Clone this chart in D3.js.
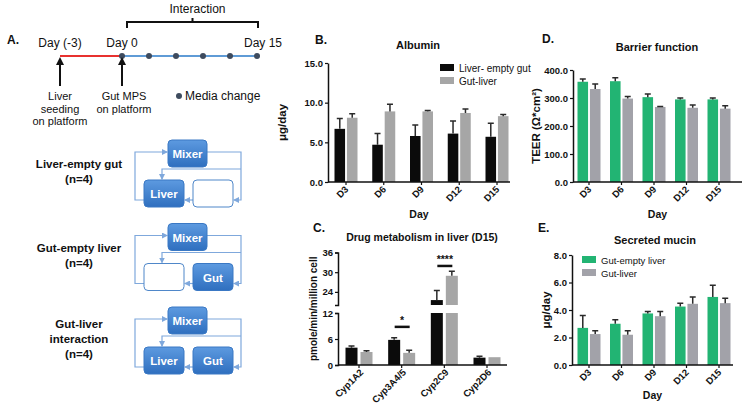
<!DOCTYPE html>
<html><head><meta charset="utf-8">
<script src="https://cdn.jsdelivr.net/npm/d3@7"></script>
<style>
body{margin:0;background:#fff}
svg{display:block}
text{font-family:"Liberation Sans",Arial,sans-serif;fill:#111}
</style>
</head><body>
<svg id="chart" width="749" height="408"></svg>
<script>
// ---------- DATA ----------
const timelineLabels = ["Day (-3)", "Day 0", "Day 15"];
const timelineDays = [-3, 0, 15];
const mediaChangeDays = [0, 3, 6, 9, 12, 15];
const setupLabels = [["Liver-empty gut", "(n=4)"], ["Gut-empty liver", "(n=4)"], ["Gut-liver", "interaction", "(n=4)"]];
const setupLeftBox = ["Liver", "", "Liver"];
const setupRightBox = ["", "Gut", "Gut"];

const days = ["D3", "D6", "D9", "D12", "D15"];
const albuminLiverEmptyGut = [6.7, 4.7, 5.8, 6.1, 5.7];
const albuminLiverEmptyGutErr = [1.3, 1.4, 1.4, 1.6, 1.7];
const albuminGutLiver = [8.1, 8.9, 8.9, 8.7, 8.3];
const albuminGutLiverErr = [0.5, 0.9, 0.1, 0.5, 0.2];
const albuminTicks = [0, 5, 10, 15];

const cypGenes = ["Cyp1A2", "Cyp3A4/5", "Cyp2C9", "Cyp2D6"];
const cypLiverEmptyGut = [4.0, 5.8, 21.5, 1.7];
const cypLiverEmptyGutErr = [0.4, 0.5, 2.9, 0.3];
const cypGutLiver = [3.0, 2.8, 28.9, 1.8];
const cypGutLiverErr = [0.3, 0.6, 1.4, 0];
const cypLowTicks = [0, 6, 12];
const cypHighTicks = [24, 30, 36];
const sigGenes = ["Cyp3A4/5", "Cyp2C9"];
const sigLabels = ["*", "****"];
const sigHeights = [8.8, 31.9];

const teerGutEmptyLiver = [358, 360, 303, 295, 295];
const teerGutEmptyLiverErr = [10, 12, 11, 5, 5];
const teerGutLiver = [332, 298, 268, 265, 262];
const teerGutLiverErr = [18, 7, 2, 10, 10];
const teerTicks = [0, 100, 200, 300, 400];

const mucinGutEmptyLiver = [2.7, 3.0, 3.75, 4.25, 4.95];
const mucinGutEmptyLiverErr = [0.9, 0.3, 0.15, 0.25, 0.85];
const mucinGutLiver = [2.25, 2.2, 3.55, 4.45, 4.5];
const mucinGutLiverErr = [0.25, 0.3, 0.35, 0.5, 0.35];
const mucinTicks = [0, 2, 4, 6, 8];

// ---------- STYLE ----------
const BLACK = "#0b0b0b", GRAY = "#a6a6a6", GREEN = "#22b473", GRAY2 = "#a2a2a9";
const ERR = "#2a2a2a";
const TICK_FS = 9.5;
const svg = d3.select("#chart");

function txt(g, x, y, s, o = {}) {
  const t = g.append("text").attr("x", x).attr("y", y).text(s)
    .attr("font-size", o.size || 11).attr("font-weight", o.bold ? "bold" : "normal")
    .attr("text-anchor", o.anchor || "start");
  if (o.rotate) t.attr("transform", `rotate(${o.rotate},${x},${y})`);
  return t;
}

// ---------- PANEL A ----------
const A = svg.append("g");
txt(A, 7, 44, "A.", {size: 12, bold: true});
const tx = d3.scaleLinear().domain([-3, 0, 15]).range([60, 122, 257]);
const lineY = 56;
A.append("line").attr("x1", tx(-3)).attr("x2", tx(0)).attr("y1", lineY).attr("y2", lineY)
  .attr("stroke", "#e8312f").attr("stroke-width", 2);
A.append("line").attr("x1", tx(0)).attr("x2", tx(15)).attr("y1", lineY).attr("y2", lineY)
  .attr("stroke", "#5f9bd6").attr("stroke-width", 2);
A.selectAll(".md").data(mediaChangeDays).join("circle")
  .attr("cx", d => tx(d)).attr("cy", lineY).attr("r", 3).attr("fill", "#3e4b5e");
timelineLabels.forEach((s, i) => {
  const d = timelineDays[i];
  if (i === 2) txt(A, tx(d) - 13, 47, s, {size: 12});
  else txt(A, tx(d), 47, s, {size: 12, anchor: "middle"});
});
// bracket
const bx0 = tx(0) + 5, bx1 = tx(15) + 1, by = 22;
A.append("path").attr("d", `M${bx0},${by + 6}V${by}H${bx1}V${by + 6}M${(bx0 + bx1) / 2},${by}V${by - 4}`)
  .attr("fill", "none").attr("stroke", "#111").attr("stroke-width", 2);
txt(A, (bx0 + bx1) / 2 + 5, 13, "Interaction", {size: 12, anchor: "middle"});
// arrows
[-3, 0].forEach(d => {
  const x = tx(d);
  A.append("line").attr("x1", x).attr("x2", x).attr("y1", 86).attr("y2", 64).attr("stroke", "#111").attr("stroke-width", 2);
  A.append("path").attr("d", `M${x - 4},${65}L${x},${57}L${x + 4},${65}Z`).attr("fill", "#111");
});
const capFS = 11, capLH = 12.5;
txt(A, tx(-3), 100, "Liver", {size: capFS, anchor: "middle"});
txt(A, tx(-3), 100 + capLH, "seeding", {size: capFS, anchor: "middle"});
txt(A, tx(-3), 100 + 2 * capLH, "on platform", {size: capFS, anchor: "middle"});
txt(A, tx(0) + 2, 100, "Gut MPS", {size: capFS, anchor: "middle"});
txt(A, tx(0) + 2, 100 + capLH, "on platform", {size: capFS, anchor: "middle"});
A.append("circle").attr("cx", 179).attr("cy", 96).attr("r", 3).attr("fill", "#3e4b5e");
txt(A, 185, 100, "Media change", {size: 12});

// setup diagrams
const defs = svg.append("defs");
const grad = defs.append("linearGradient").attr("id", "bg").attr("x1", 0).attr("y1", 0).attr("x2", 0).attr("y2", 1);
grad.append("stop").attr("offset", 0).attr("stop-color", "#5d9ae0");
grad.append("stop").attr("offset", 1).attr("stop-color", "#2f6fbf");
defs.append("marker").attr("id", "ah").attr("viewBox", "0 0 6 6").attr("refX", 5).attr("refY", 3)
  .attr("markerWidth", 5).attr("markerHeight", 5).attr("orient", "auto")
  .append("path").attr("d", "M0,0L6,3L0,6Z").attr("fill", "#7fa8dc");
const rowTops = d3.scaleLinear().domain([0, 2]).range([140, 307]);
setupLabels.forEach((lab, i) => {
  const top = rowTops(i), boxTop = top + 40;
  const g = A.append("g");
  const ly = lab.length === 3 ? top + 21 : top + 28;
  lab.forEach((s, k) => txt(g, 79, ly + k * 15, s, {size: 11.5, bold: true, anchor: "middle"}));
  const lc = "#7fa8dc";
  const ln = d => g.append("path").attr("d", d).attr("fill", "none").attr("stroke", lc).attr("stroke-width", 1.2).attr("marker-end", "url(#ah)");
  ln(`M144,${boxTop + 20}H135V${top + 12}H167`);
  ln(`M207,${top + 12}H241V${boxTop + 20}H234`);
  ln(`M241,${top + 29}H162V${boxTop - 1}`);
  ln(`M193,${boxTop + 20}H185`);
  const box = (x, w, y, label) => {
    const filled = label !== "";
    g.append("rect").attr("x", x).attr("y", y).attr("width", w).attr("height", 27).attr("rx", 4)
      .attr("fill", filled ? "url(#bg)" : "#fff").attr("stroke", filled ? "#3a78c4" : "#4f87c9").attr("stroke-width", 1);
    if (filled) g.append("text").attr("x", x + w / 2).attr("y", y + 18).attr("text-anchor", "middle")
      .attr("font-size", 11.5).attr("font-weight", "bold").style("fill", "#fff").text(label);
  };
  box(168, 39, top, "Mixer");
  box(144, 40, boxTop, setupLeftBox[i]);
  box(193, 40, boxTop, setupRightBox[i]);
});

// ---------- BAR PANEL HELPER ----------
function barPanel(o) {
  const g = svg.append("g");
  const y = d3.scaleLinear().domain(o.yDomain).range(o.yRange);
  const xc = d3.scalePoint().domain(o.cats).range(o.centers);
  const sub = d3.scaleBand().domain([0, 1]).range([-o.half, o.half]).paddingInner(0.15);
  const series = [[o.v1, o.e1, o.c1], [o.v2, o.e2, o.c2]];
  series.forEach(([vals, errs, col], si) => {
    o.cats.forEach((c, i) => {
      const x = xc(c) + sub(si);
      const bw = sub.bandwidth();
      g.append("rect").attr("x", x).attr("y", y(vals[i])).attr("width", bw)
        .attr("height", y(0) - y(vals[i])).attr("fill", col);
      if (errs[i] > 0) {
        const cx = x + bw / 2, yt = y(vals[i] + errs[i]);
        g.append("path").attr("d", `M${cx},${y(vals[i])}V${yt}M${cx - 3},${yt}H${cx + 3}`)
          .attr("stroke", ERR).attr("stroke-width", 1.5).attr("fill", "none");
      }
    });
  });
  // axes
  const ay = g.append("g").attr("transform", `translate(${o.axisX0},0)`)
    .call(d3.axisLeft(y).tickValues(o.ticks).tickFormat(d3.format(".1f")).tickSize(3).tickSizeOuter(0).tickPadding(2));
  styleAxis(ay);
  g.append("line").attr("x1", o.axisX0).attr("x2", o.axisX1).attr("y1", y(0)).attr("y2", y(0))
    .attr("stroke", "#111").attr("stroke-width", 1.5);
  o.cats.forEach(c => {
    g.append("line").attr("x1", xc(c)).attr("x2", xc(c)).attr("y1", y(0)).attr("y2", y(0) + 3).attr("stroke", "#111").attr("stroke-width", 1.2);
    txt(g, xc(c) + 3, y(0) + 8, c, {size: TICK_FS, bold: true, anchor: "end", rotate: -45});
  });
  txt(g, (o.axisX0 + o.axisX1) / 2, o.xTitleY, "Day", {size: 10.5, bold: true, anchor: "middle"});
  txt(g, o.yTitleX, (o.yRange[0] + o.yRange[1]) / 2, o.yTitle, {size: 11.5, bold: true, anchor: "middle", rotate: -90});
  txt(g, o.titleX, o.titleY, o.title, {size: 11, bold: true, anchor: "middle"});
  txt(g, o.letterX, o.letterY, o.letter, {size: 12, bold: true});
  return g;
}
function styleAxis(a) {
  a.select(".domain").attr("stroke", "#111").attr("stroke-width", 1.5);
  a.selectAll(".tick line").attr("stroke", "#111").attr("stroke-width", 1.2);
  a.selectAll(".tick text").attr("font-size", TICK_FS).attr("font-weight", "bold")
    .attr("font-family", "'Liberation Sans',Arial,sans-serif").style("fill", "#111");
}
function legend(g, x, y, labels, cols, size) {
  labels.forEach((s, i) => {
    g.append("rect").attr("x", x).attr("y", y + i * 13 - 4).attr("width", 14).attr("height", 7).attr("fill", cols[i]);
    txt(g, x + 19, y + i * 13 + 3.5, s, {size: size});
  });
}

// ---------- PANEL B ----------
const B = barPanel({
  cats: days, v1: albuminLiverEmptyGut, e1: albuminLiverEmptyGutErr, c1: BLACK,
  v2: albuminGutLiver, e2: albuminGutLiverErr, c2: GRAY,
  yDomain: [0, 15], yRange: [182, 63], ticks: albuminTicks,
  centers: [346, 497], half: 11.5, axisX0: 328, axisX1: 510,
  xTitleY: 218, yTitle: "\u03bcg/day", yTitleX: 286, title: "Albumin", titleX: 418, titleY: 49,
  letter: "B.", letterX: 315, letterY: 44
});
legend(B, 440, 68, ["Liver- empty gut", "Gut-liver"], [BLACK, GRAY], 10);

// ---------- PANEL C ----------
(function () {
  const g = svg.append("g");
  const yLow = d3.scaleLinear().domain([0, 12]).range([365, 313]);
  const yHigh = d3.scaleLinear().domain([20, 36]).range([305, 252.5]);
  const xc = d3.scalePoint().domain(cypGenes).range([359, 487]);
  const sub = d3.scaleBand().domain([0, 1]).range([-13.5, 13.5]).paddingInner(0.2);
  const bw = sub.bandwidth();
  [[cypLiverEmptyGut, cypLiverEmptyGutErr, BLACK], [cypGutLiver, cypGutLiverErr, GRAY]].forEach(([vals, errs, col], si) => {
    cypGenes.forEach((c, i) => {
      const x = xc(c) + sub(si), v = vals[i], e = errs[i];
      let yS;
      if (v <= 12) {
        g.append("rect").attr("x", x).attr("y", yLow(v)).attr("width", bw).attr("height", yLow(0) - yLow(v)).attr("fill", col);
        yS = yLow;
      } else {
        g.append("rect").attr("x", x).attr("y", yLow(12)).attr("width", bw).attr("height", yLow(0) - yLow(12)).attr("fill", col);
        g.append("rect").attr("x", x).attr("y", yHigh(v)).attr("width", bw).attr("height", yHigh(20) - yHigh(v)).attr("fill", col);
        yS = yHigh;
      }
      if (e > 0) {
        const cx = x + bw / 2, yt = yS(v + e);
        g.append("path").attr("d", `M${cx},${yS(v)}V${yt}M${cx - 3},${yt}H${cx + 3}`)
          .attr("stroke", ERR).attr("stroke-width", 1.5).attr("fill", "none");
      }
    });
  });
  const a1 = g.append("g").attr("transform", "translate(338,0)")
    .call(d3.axisLeft(yLow).tickValues(cypLowTicks).tickSize(3).tickSizeOuter(3).tickPadding(2));
  const a2 = g.append("g").attr("transform", "translate(338,0)")
    .call(d3.axisLeft(yHigh).tickValues(cypHighTicks).tickSize(3).tickSizeOuter(3).tickPadding(2));
  styleAxis(a1); styleAxis(a2);
  g.append("line").attr("x1", 338).attr("x2", 507).attr("y1", yLow(0)).attr("y2", yLow(0)).attr("stroke", "#111").attr("stroke-width", 1.5);
  cypGenes.forEach(c => {
    g.append("line").attr("x1", xc(c)).attr("x2", xc(c)).attr("y1", yLow(0)).attr("y2", yLow(0) + 3).attr("stroke", "#111").attr("stroke-width", 1.2);
    txt(g, xc(c) + 5, yLow(0) + 8, c, {size: TICK_FS, bold: true, anchor: "end", rotate: -45});
  });
  sigGenes.forEach((c, i) => {
    const h = sigHeights[i];
    const yy = h <= 12 ? yLow(h) : yHigh(h);
    g.append("line").attr("x1", xc(c) - 7).attr("x2", xc(c) + 8).attr("y1", yy).attr("y2", yy).attr("stroke", "#111").attr("stroke-width", 2.5);
    txt(g, xc(c) + 0.5, yy - 3, sigLabels[i], {size: 10.5, bold: true, anchor: "middle"});
  });
  txt(g, 317, (365 + 252.5) / 2, "pmole/min/million cell", {size: 10, bold: true, anchor: "middle", rotate: -90});
  txt(g, 422, 241, "Drug metabolism in liver (D15)", {size: 10.5, bold: true, anchor: "middle"});
  txt(g, 313, 232, "C.", {size: 12, bold: true});
})();

// ---------- PANEL D ----------
barPanel({
  cats: days, v1: teerGutEmptyLiver, e1: teerGutEmptyLiverErr, c1: GREEN,
  v2: teerGutLiver, e2: teerGutLiverErr, c2: GRAY2,
  yDomain: [0, 400], yRange: [182, 70], ticks: teerTicks,
  centers: [589, 719], half: 11.5, axisX0: 573, axisX1: 742,
  xTitleY: 218, yTitle: "TEER (\u03a9*cm\u00b2)", yTitleX: 540, title: "Barrier function", titleX: 657, titleY: 51,
  letter: "D.", letterX: 542, letterY: 43
});

// ---------- PANEL E ----------
const E = barPanel({
  cats: days, v1: mucinGutEmptyLiver, e1: mucinGutEmptyLiverErr, c1: GREEN,
  v2: mucinGutLiver, e2: mucinGutLiverErr, c2: GRAY2,
  yDomain: [0, 8], yRange: [365, 255], ticks: mucinTicks,
  centers: [589, 719], half: 11.5, axisX0: 572, axisX1: 733,
  xTitleY: 399, yTitle: "\u03bcg/day", yTitleX: 550, title: "Secreted mucin", titleX: 655, titleY: 244,
  letter: "E.", letterX: 538, letterY: 232
});
legend(E, 582, 260, ["Gut-empty liver", "Gut-liver"], [GREEN, GRAY2], 9.5);
</script>
</body></html>
